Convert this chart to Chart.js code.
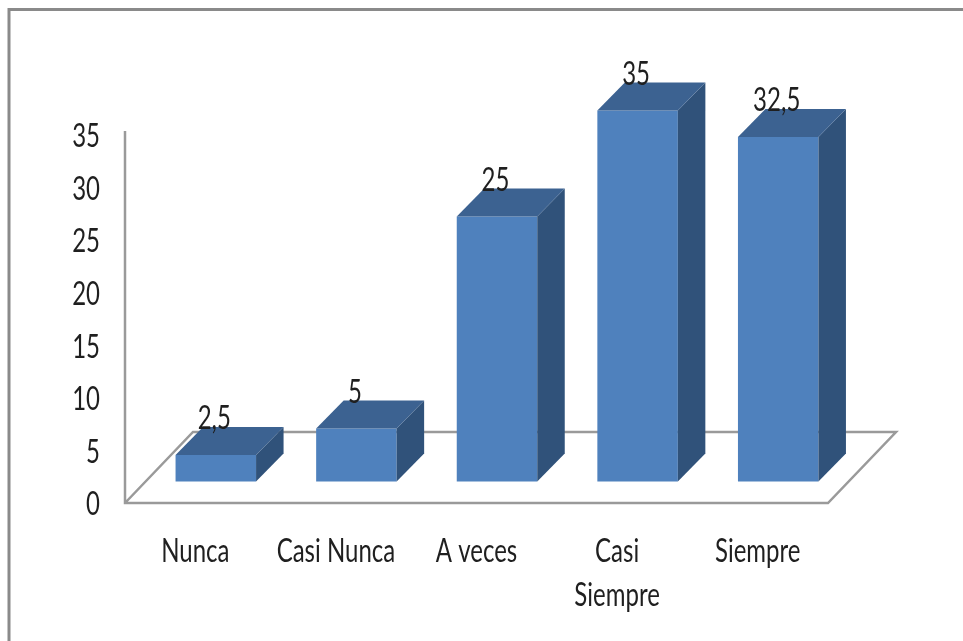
<!DOCTYPE html>
<html>
<head>
<meta charset="utf-8">
<title>Chart</title>
<script src="https://cdn.jsdelivr.net/npm/chart.js@4"></script>
<style>
  html, body { margin: 0; background: #fff; }
  canvas { display: block; filter: blur(0.4px); }
</style>
</head>
<body>
<canvas id="myChart" width="963" height="641"></canvas>
<script>
const categories = ['Nunca', 'Casi Nunca', 'A veces', ['Casi', 'Siempre'], 'Siempre'];
const values = [2.5, 5, 25, 35, 32.5];
const yMax = 35;
const yStep = 5;

const labelFont = { family: 'Lato, "Liberation Sans", sans-serif', size: 32, lineHeight: 1.39 };
const textColor = '#1f1f1f';
const lineGray = '#9a9a9a';
const frontColor = '#4f81bd';
const topColor = '#3c6291';
const sideColor = '#30527a';
const depthX = 27.5;
const depthY = 28;
const shiftX = 20.5;
const textSquash = 0.75;   // the picture's text is squeezed sideways
const textDrop = 2;

// no condensed font here, so squeeze the text when it is drawn
const squashText = {
  id: 'squashText',
  beforeInit(chart) {
    const c = chart.ctx;
    const fill = c.fillText;
    c.fillText = function (text, x, y) {
      c.save();
      c.translate(x, y + textDrop);
      c.scale(textSquash, 1);
      fill.call(c, text, 0, 0);
      c.restore();
    };
  }
};

// frame and floor go under the bars
const backdrop = {
  id: 'backdrop',
  beforeDatasetsDraw(chart) {
    const c = chart.ctx;
    const a = chart.chartArea;
    c.save();
    c.strokeStyle = '#8a8a8a';
    c.lineWidth = 3;
    c.beginPath();
    c.moveTo(9, 641);
    c.lineTo(9, 9.5);
    c.lineTo(963, 9.5);
    c.stroke();

    c.strokeStyle = lineGray;
    c.lineWidth = 2.5;
    c.beginPath();
    c.moveTo(a.left, a.top - 4);
    c.lineTo(a.left, a.bottom);
    c.lineTo(a.right, a.bottom);
    c.lineTo(a.right + 68, a.bottom - 71);
    c.lineTo(a.left + 68, a.bottom - 71);
    c.lineTo(a.left, a.bottom);
    c.stroke();
    c.restore();

    // bars stand a little inside the floor
    c.save();
    c.translate(shiftX, 0);
  },
  afterDatasetsDraw(chart) {
    const c = chart.ctx;
    const bars = chart.getDatasetMeta(0).data;
    bars.forEach((bar, i) => {
      const l = bar.x - bar.width / 2;
      const r = bar.x + bar.width / 2;
      c.fillStyle = sideColor;
      c.beginPath();
      c.moveTo(r, bar.y);
      c.lineTo(r + depthX, bar.y - depthY);
      c.lineTo(r + depthX, bar.base - depthY);
      c.lineTo(r, bar.base);
      c.closePath();
      c.fill();
      c.fillStyle = topColor;
      c.beginPath();
      c.moveTo(l, bar.y);
      c.lineTo(l + depthX, bar.y - depthY);
      c.lineTo(r + depthX, bar.y - depthY);
      c.lineTo(r, bar.y);
      c.closePath();
      c.fill();
    });
    bars.forEach((bar, i) => {
      c.fillStyle = textColor;
      c.font = labelFont.size + 'px ' + labelFont.family;
      c.textAlign = 'center';
      c.textBaseline = 'middle';
      c.fillText(String(values[i]).replace('.', ','), bar.x - 1.5, bar.y - 38);
    });
    c.restore();
  }
};

new Chart(document.getElementById('myChart'), {
  type: 'bar',
  plugins: [squashText, backdrop],
  data: {
    labels: categories,
    datasets: [{
      data: values,
      yAxisID: 'y1',
      backgroundColor: frontColor,
      barPercentage: 0.5725,
      categoryPercentage: 1,
      clip: false
    }]
  },
  options: {
    responsive: false,
    animation: false,
    layout: { padding: { top: 135, right: 135 } },
    plugins: { legend: { display: false }, tooltip: { enabled: false } },
    scales: {
      x: {
        grid: { display: false, drawTicks: false },
        border: { display: false },
        ticks: { font: labelFont, color: textColor, padding: 24, maxRotation: 0, autoSkip: false },
        afterFit(scale) { scale.height = 138; }
      },
      y: {
        min: 0,
        max: yMax,
        grid: { display: false, drawTicks: false },
        border: { display: false },
        ticks: { stepSize: yStep, font: labelFont, color: textColor, padding: 25 },
        afterFit(scale) { scale.width = 125; }
      },
      // same pixel range as y, but the bars sit on the raised floor
      y1: { display: false, min: -2.03, max: 32.69 }
    }
  }
});
</script>
</body>
</html>
